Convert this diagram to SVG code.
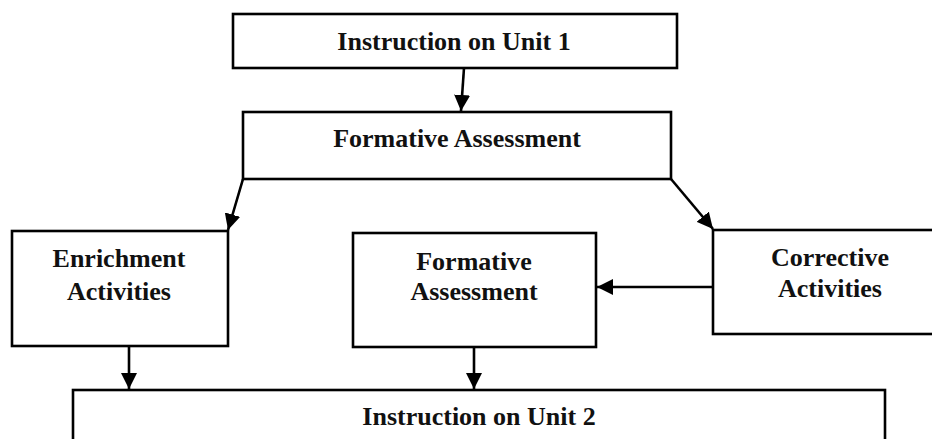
<svg xmlns="http://www.w3.org/2000/svg" width="932" height="439" viewBox="0 0 932 439">
<style>
.box{fill:#fff;stroke:#000;stroke-width:2.6}
.lbl{font-family:"Liberation Serif","Times New Roman",serif;font-weight:bold;font-size:26px;fill:#111;text-anchor:middle}
.con{stroke:#000;stroke-width:2.6;fill:none;marker-end:url(#ah)}
</style>
<defs>
<marker id="ah" markerUnits="userSpaceOnUse" markerWidth="16" markerHeight="16" viewBox="0 0 16 16" refX="16" refY="8" orient="auto">
<path d="M0,0 L16,8 L0,16 Z" fill="#000"/>
</marker>
</defs>
<rect width="932" height="439" fill="#fff"/>
<g id="n-unit1">
<rect class="box" x="233" y="14" width="444" height="54"/>
<text class="lbl" x="454" y="50">Instruction on Unit 1</text>
</g>
<g id="n-formative1">
<rect class="box" x="243" y="112" width="428" height="67"/>
<text class="lbl" x="457" y="147">Formative Assessment</text>
</g>
<g id="n-enrichment">
<rect class="box" x="12" y="231" width="216" height="115"/>
<text class="lbl" x="119" y="267">Enrichment</text>
<text class="lbl" x="119" y="300">Activities</text>
</g>
<g id="n-formative2">
<rect class="box" x="353" y="233" width="243" height="114"/>
<text class="lbl" x="474" y="270">Formative</text>
<text class="lbl" x="474" y="300">Assessment</text>
</g>
<g id="n-corrective">
<rect class="box" x="713" y="230" width="240" height="104"/>
<text class="lbl" x="830" y="266">Corrective</text>
<text class="lbl" x="830" y="297">Activities</text>
</g>
<g id="n-unit2">
<rect class="box" x="73" y="390" width="812" height="80"/>
<text class="lbl" x="479" y="425">Instruction on Unit 2</text>
</g>
<g id="connectors">
<line class="con" x1="464" y1="68" x2="461" y2="111"/>
<line class="con" x1="243" y1="179" x2="228" y2="230"/>
<line class="con" x1="671" y1="179" x2="713" y2="229"/>
<line class="con" x1="713" y1="287" x2="597" y2="287"/>
<line class="con" x1="129" y1="346" x2="129" y2="389"/>
<line class="con" x1="474" y1="347" x2="474" y2="389"/>
</g>
</svg>
